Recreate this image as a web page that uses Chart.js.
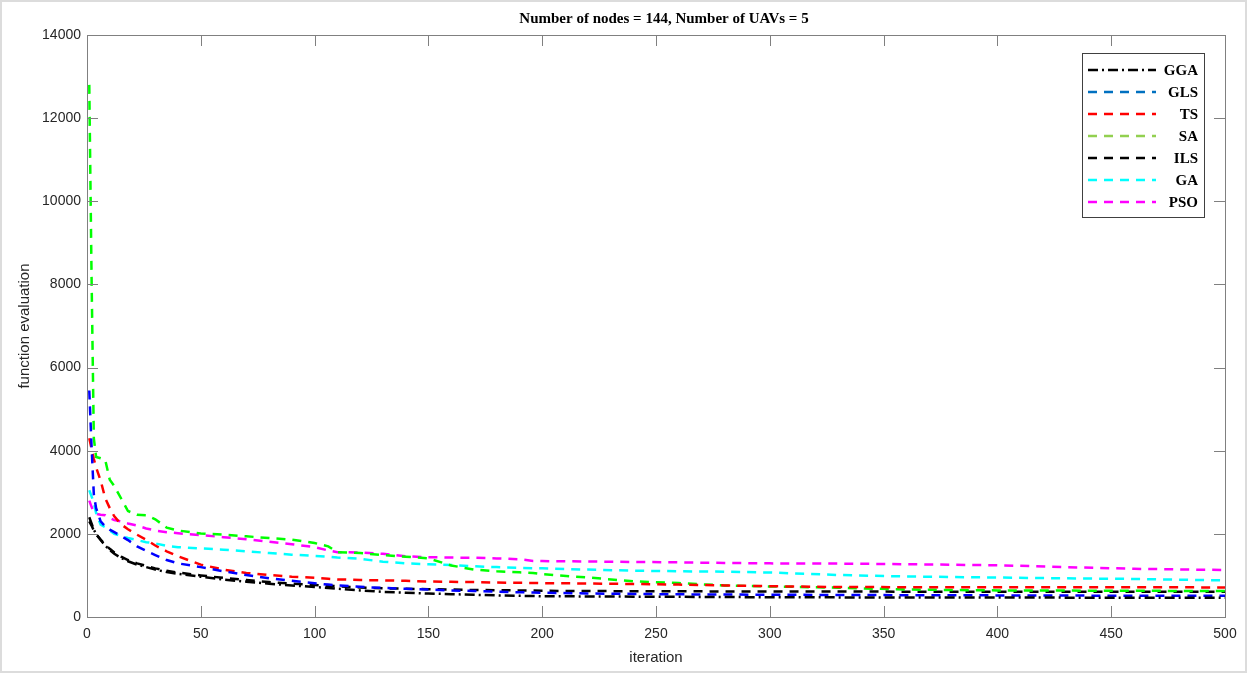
<!DOCTYPE html>
<html>
<head>
<meta charset="utf-8">
<script src="https://cdn.jsdelivr.net/npm/chart.js@4.4.0/dist/chart.umd.min.js"></script>
<style>
html,body{margin:0;padding:0;background:#fff;}
#wrap{width:1247px;height:673px;}
</style>
</head>
<body>
<div id="wrap"><canvas id="fig" width="1247" height="673"></canvas></div>
<script>
var iterations = [1,2,3,4,6,8,10,12,15,18,22,26,30,35,40,50,60,70,80,90,100,106,110,120,130,140,150,160,170,180,190,196,200,220,240,260,280,300,330,360,400,430,460,500];

var gga = [2400,2250,2100,2000,1850,1720,1610,1520,1420,1340,1260,1200,1140,1080,1040,970,900,850,800,760,720,700,680,640,605,585,565,550,535,520,510,505,500,495,490,485,480,475,472,470,468,466,464,462];
var gls = [5450,4100,2950,2620,2300,2180,2100,2040,1950,1850,1700,1590,1490,1370,1290,1200,1100,1010,930,870,810,780,760,725,700,680,660,640,625,610,595,590,585,565,555,545,540,535,530,525,520,515,512,510];
var ts  = [4300,4050,3800,3600,3280,2860,2620,2420,2230,2110,1980,1860,1720,1580,1460,1260,1140,1060,1010,970,945,920,905,890,880,870,855,845,840,830,822,818,815,805,795,780,760,740,720,718,716,715,714,712];
var sa  = [12800,8200,4300,3850,3820,3780,3300,3150,2850,2550,2460,2450,2350,2150,2080,2010,1980,1940,1900,1860,1780,1700,1560,1540,1490,1450,1410,1240,1140,1100,1075,1060,1030,950,860,815,760,735,705,660,640,635,630,625];
var ils = [2300,2200,2080,1990,1860,1740,1640,1550,1450,1370,1290,1230,1170,1110,1070,1000,940,890,840,800,770,750,740,710,690,680,670,660,650,645,640,635,630,625,620,618,615,613,612,610,609,608,607,606];
var ga  = [3050,2900,2750,2500,2220,2160,2080,2000,1950,1900,1850,1800,1770,1710,1680,1650,1620,1580,1540,1500,1470,1450,1430,1400,1330,1290,1270,1250,1220,1200,1180,1175,1170,1140,1115,1100,1090,1070,1010,975,950,930,915,880];
var pso = [2800,2650,2520,2480,2460,2450,2380,2330,2300,2250,2200,2130,2080,2040,2015,1970,1920,1870,1810,1750,1680,1600,1560,1550,1520,1460,1440,1430,1425,1410,1390,1350,1345,1335,1325,1315,1300,1290,1285,1270,1245,1200,1160,1130];

var seriesNames = ['GGA','GLS','TS','SA','ILS','GA','PSO'];
var xTicks = [0,50,100,150,200,250,300,350,400,450,500];
var yTicks = [0,2000,4000,6000,8000,10000,12000,14000];

var titleText = 'Number of nodes = 144, Number of UAVs = 5';

function pts(vals){
    return iterations.map(function(x,i){ return {x:x, y:vals[i]}; });
}

var dashed = [9,7];
var dashDot = [10,4,2,4];

var sets = [
    {label:seriesNames[0], data:pts(gga), borderColor:'#000000', borderDash:dashDot},
    {label:seriesNames[1], data:pts(gls), borderColor:'#0000ff', borderDash:dashed, legendColor:'#0070c0'},
    {label:seriesNames[2], data:pts(ts),  borderColor:'#ff0000', borderDash:dashed},
    {label:seriesNames[3], data:pts(sa),  borderColor:'#00ff00', borderDash:dashed, legendColor:'#92d050'},
    {label:seriesNames[4], data:pts(ils), borderColor:'#000000', borderDash:dashed},
    {label:seriesNames[5], data:pts(ga),  borderColor:'#00ffff', borderDash:dashed},
    {label:seriesNames[6], data:pts(pso), borderColor:'#ff00ff', borderDash:dashed}
];
sets.forEach(function(s){
    s.borderWidth = 2.5;
    s.pointRadius = 0;
    s.tension = 0;
    s.fill = false;
});

// page frame, title, boxed axes with inward ticks, and the legend box
var figDeco = {
    id:'figDeco',
    beforeDraw:function(chart){
        var c = chart.ctx;
        c.save();
        c.fillStyle = '#fff';
        c.fillRect(0,0,chart.width,chart.height);
        c.strokeStyle = '#dcdcdc';
        c.lineWidth = 2;
        c.strokeRect(1,1,chart.width-2,chart.height-2);
        c.restore();
    },
    afterDraw:function(chart){
        var c = chart.ctx, a = chart.chartArea, xs = chart.scales.x, ys = chart.scales.y;
        c.save();
        // title
        c.fillStyle = '#000';
        c.font = 'bold 15px "Liberation Serif"';
        c.textAlign = 'center';
        c.textBaseline = 'middle';
        c.fillText(titleText, (a.left+a.right)/2 + 8, 19);

        // box + ticks
        c.strokeStyle = '#808080';
        c.lineWidth = 1;
        c.strokeRect(Math.round(a.left)+0.5, Math.round(a.top)+0.5, Math.round(a.right-a.left), Math.round(a.bottom-a.top));
        c.beginPath();
        xs.ticks.forEach(function(t){
            var p = Math.round(xs.getPixelForValue(t.value))+0.5;
            c.moveTo(p,a.bottom); c.lineTo(p,a.bottom-11);
            c.moveTo(p,a.top); c.lineTo(p,a.top+11);
        });
        ys.ticks.forEach(function(t){
            var p = Math.round(ys.getPixelForValue(t.value))+0.5;
            c.moveTo(a.left,p); c.lineTo(a.left+11,p);
            c.moveTo(a.right,p); c.lineTo(a.right-11,p);
        });
        c.stroke();

        // legend
        var lx = 1082, ly = 53, lw = 122, lh = 164;
        c.fillStyle = '#fff';
        c.fillRect(lx,ly,lw,lh);
        c.strokeStyle = '#404040';
        c.lineWidth = 1;
        c.strokeRect(lx+0.5,ly+0.5,lw,lh);
        c.font = 'bold 15px "Liberation Serif"';
        c.textAlign = 'right';
        c.textBaseline = 'middle';
        chart.data.datasets.forEach(function(d,i){
            var y = ly + 17 + i*22;
            c.strokeStyle = d.legendColor || d.borderColor;
            c.lineWidth = 2.5;
            c.setLineDash(d.borderDash);
            c.beginPath();
            c.moveTo(lx+6,y); c.lineTo(lx+74,y);
            c.stroke();
            c.setLineDash([]);
            c.fillStyle = '#000';
            c.fillText(d.label, lx+lw-6, y+1);
        });
        c.restore();
    }
};

new Chart(document.getElementById('fig').getContext('2d'), {
    type:'line',
    data:{datasets:sets},
    options:{
        responsive:false,
        animation:false,
        layout:{padding:{top:35,right:22,left:0,bottom:0}},
        plugins:{legend:{display:false}, tooltip:{enabled:false}, title:{display:false}},
        scales:{
            x:{
                type:'linear', min:0, max:500,
                afterBuildTicks:function(s){ s.ticks = xTicks.map(function(v){ return {value:v}; }); },
                afterFit:function(s){ s.height = 56; },
                grid:{display:false, drawTicks:false},
                border:{display:false},
                ticks:{font:{family:'"Liberation Sans"', size:14}, color:'#262626', padding:9, maxRotation:0,
                       callback:function(v){ return String(v); }},
                title:{display:true, text:'iteration', font:{family:'"Liberation Sans"', size:15}, color:'#262626', padding:{top:0,bottom:6}}
            },
            y:{
                type:'linear', min:0, max:14000,
                afterBuildTicks:function(s){ s.ticks = yTicks.map(function(v){ return {value:v}; }); },
                afterFit:function(s){ s.width = 87; },
                grid:{display:false, drawTicks:false},
                border:{display:false},
                ticks:{font:{family:'"Liberation Sans"', size:14}, color:'#262626', padding:6,
                       callback:function(v){ return String(v); }},
                title:{display:true, text:'function evaluation', font:{family:'"Liberation Sans"', size:15}, color:'#262626', padding:{top:16,bottom:0}}
            }
        }
    },
    plugins:[figDeco]
});
</script>
</body>
</html>
